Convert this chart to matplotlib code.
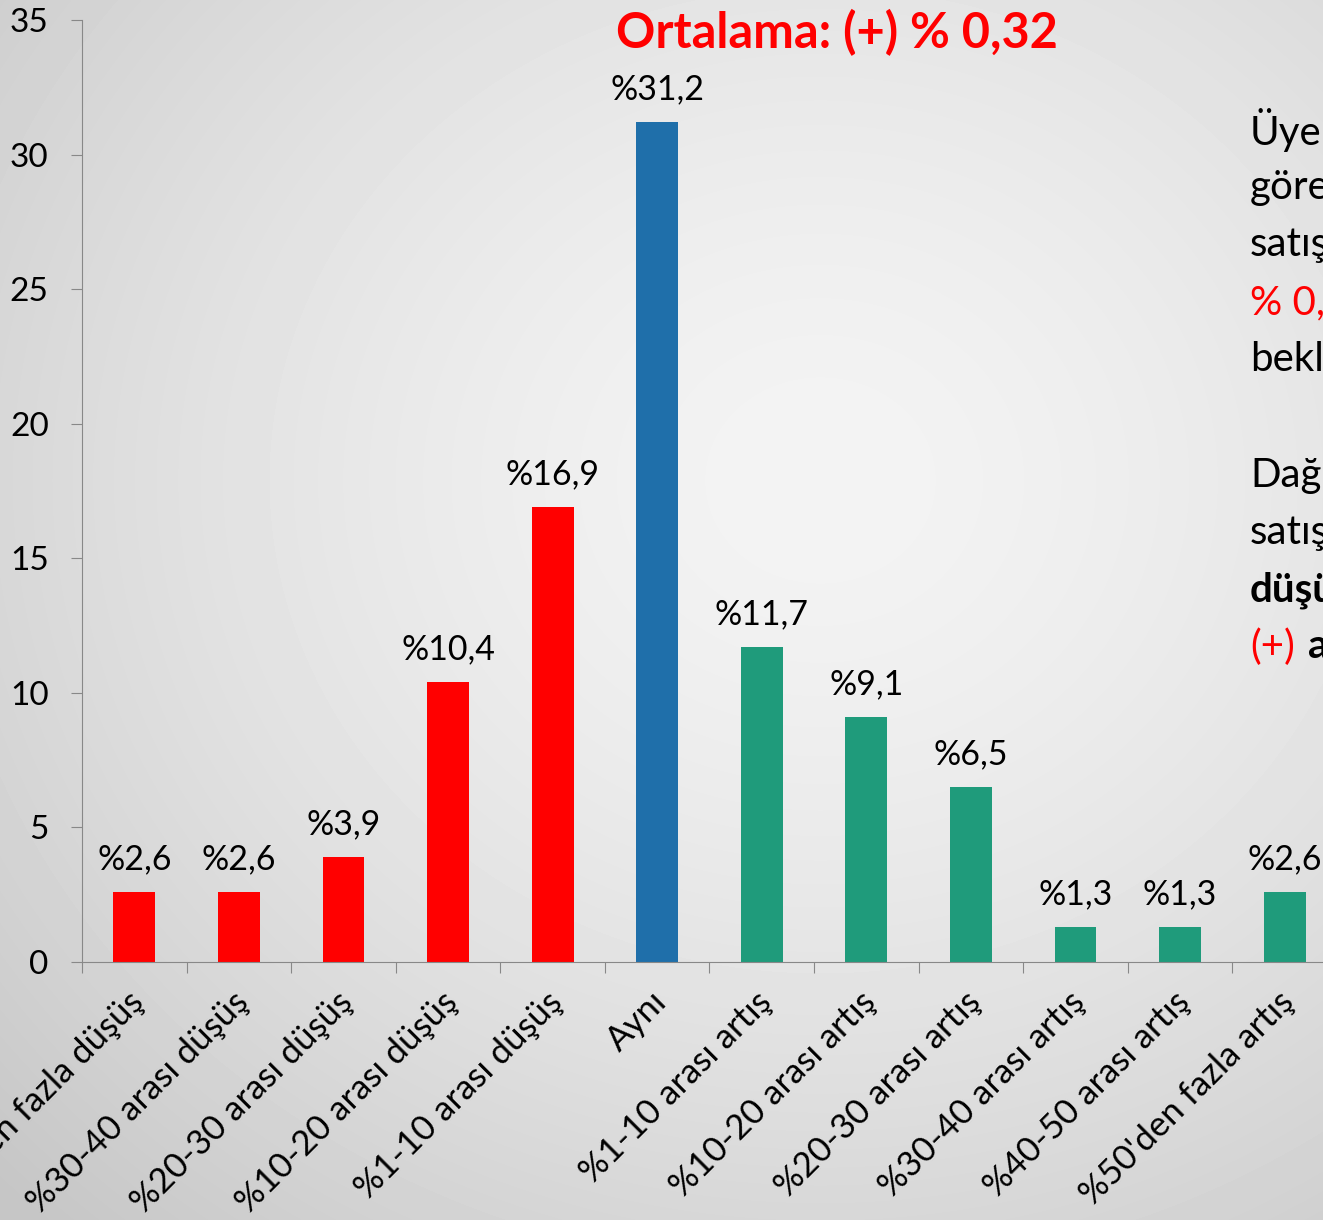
import numpy as np
import matplotlib.pyplot as plt

plt.rcParams['font.family'] = ['Lato', 'DejaVu Sans']

# veriler
categories = ["%50'den fazla düşüş", "%30-40 arası düşüş", "%20-30 arası düşüş",
              "%10-20 arası düşüş", "%1-10 arası düşüş", "Aynı",
              "%1-10 arası artış", "%10-20 arası artış", "%20-30 arası artış",
              "%30-40 arası artış", "%40-50 arası artış", "%50'den fazla artış"]
values = [2.6, 2.6, 3.9, 10.4, 16.9, 31.2, 11.7, 9.1, 6.5, 1.3, 1.3, 2.6]
value_labels = ["%2,6", "%2,6", "%3,9", "%10,4", "%16,9", "%31,2",
                "%11,7", "%9,1", "%6,5", "%1,3", "%1,3", "%2,6"]
colors = ['#ff0000'] * 5 + ['#1f6faa'] + ['#1f9b7b'] * 6
yticks = [0, 5, 10, 15, 20, 25, 30, 35]

fig = plt.figure(figsize=(13.23, 12.2), dpi=100)

# arka plan: gri radyal geçiş (yumuşak)
bg = fig.add_axes([0, 0, 1, 1], zorder=-10)
yy, xx = np.mgrid[0:1220, 0:1323]
r = np.sqrt(((xx - 820) / 950.0) ** 2 + ((yy - 480) / 850.0) ** 2)
r = np.clip(r, 0, 1.2) / 1.2
shade = 0.955 - 0.18 * r ** 1.5
bg.imshow(shade, cmap='gray', vmin=0, vmax=1, aspect='auto')
bg.axis('off')

ax = fig.add_axes([82 / 1323, 258 / 1220, 1255 / 1323, 942 / 1220])
ax.set_facecolor('none')
x = np.arange(len(categories))
bars = ax.bar(x, values, width=0.4, color=colors)

for xi, v, lab in zip(x, values, value_labels):
    ax.annotate(lab, (xi, v), xytext=(0, 12), textcoords='offset points',
                ha='center', va='bottom', fontsize=24.5)

ax.set_xlim(-0.5, len(categories) - 0.5)
ax.set_ylim(0, 35)
ax.set_yticks(yticks)
ax.tick_params(axis='y', labelsize=24, length=8, color='#888888', pad=16)
ax.set_xticks(np.arange(-0.5, len(categories), 1.0))
ax.set_xticklabels([])
ax.tick_params(axis='x', length=8, color='#888888')
for xi, cat in zip(x, categories):
    ax.text(xi + 0.04, -1.3, cat, rotation=45, rotation_mode='anchor',
            ha='right', va='center', fontsize=25)

for s in ['top', 'right']:
    ax.spines[s].set_visible(False)
ax.spines['left'].set_color('#888888')
ax.spines['bottom'].set_color('#888888')

fig.text(837 / 1323, 1 - 33 / 1220, "Ortalama: (+) % 0,32", color='#ff0000',
         fontsize=35, fontweight='bold', ha='center', va='center')

# sağdaki açıklama (kesik)
lines = [("Üyelerin", 'black', 'normal'), ("göre", 'black', 'normal'),
         ("satışlarda", 'black', 'normal'), ("% 0,32", '#ff0000', 'normal'),
         ("bekleniyor", 'black', 'normal'), ("", 'black', 'normal'),
         ("Dağılım", 'black', 'normal'), ("satışlarda", 'black', 'normal'),
         ("düşüş", 'black', 'bold')]
y0 = 1 - 130 / 1220
for i, (t, c, w) in enumerate(lines):
    fig.text(1250 / 1323, y0 - i * 57.5 / 1220, t, color=c, fontweight=w,
             fontsize=29, ha='left', va='center')
fig.text(1250 / 1323, y0 - 9 * 57.5 / 1220, "(+)", color='#ff0000',
         fontsize=29, ha='left', va='center')
fig.text(1308 / 1323, y0 - 9 * 57.5 / 1220, "artış", color='black',
         fontweight='bold', fontsize=29, ha='left', va='center')

fig.savefig('out.png', dpi=100)
